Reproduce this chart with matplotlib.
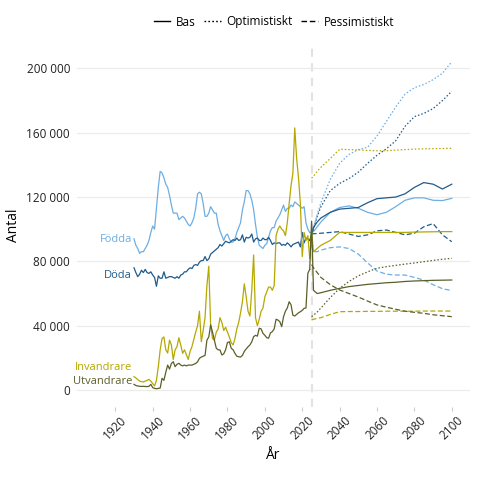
import matplotlib.pyplot as plt
from matplotlib.lines import Line2D
from matplotlib.ticker import FuncFormatter

plt.rcParams["font.family"] = ["Open Sans", "DejaVu Sans"]

# Historik 1930-2024
hist_years = list(range(1930, 2025))

fodda = [
    94000, 90000, 88000, 85000, 86000, 86000, 88000, 90000, 93000, 98000,
    102000, 100000, 113000, 126000, 136000, 135000, 132000, 128000, 126000, 121000,
    115000, 110000, 110000, 110000, 106000, 107000, 108000, 107000, 105000, 103000,
    102000, 104000, 107000, 113000, 122000, 123000, 122000, 116000, 108000, 108000,
    110000, 114000, 112000, 110000, 110000, 103000, 99000, 96000, 93000, 96000,
    97000, 94000, 92000, 92000, 94000, 98000, 101000, 104000, 112000, 117000,
    124000, 124000, 122000, 118000, 112000, 103000, 95000, 90000, 89000, 88000,
    90000, 91000, 95000, 99000, 101000, 101000, 105000, 107000, 109000, 112000,
    115000, 111000, 113000, 113000, 115000, 114000, 117000, 116000, 115000, 114000,
    113000, 114000, 104000, 100000, 98000,
]
doda = [
    76000, 73000, 70500, 72000, 74500, 73000, 75000, 73000, 72500, 73500,
    71500, 70000, 64500, 71000, 69500, 69500, 73500, 69500, 70000, 70500,
    70500, 70000, 69500, 70500, 69500, 71500, 72000, 73500, 73500, 75000,
    76000, 75500, 77500, 78000, 77500, 79500, 80500, 80500, 83000, 80500,
    81500, 84500, 85500, 86500, 87500, 88500, 90500, 89500, 91000, 92500,
    92000, 91500, 92500, 93500, 93000, 94500, 93000, 93500, 96500, 92000,
    95000, 94500, 95000, 97000, 92000, 94000, 94500, 93000, 93000, 94500,
    93500, 93500, 95000, 93000, 90500, 91500, 91000, 91500, 91500, 90000,
    90500, 90000, 91500, 90500, 89000, 90500, 91000, 91500, 92000, 89000,
    98000, 91500, 94500, 94000, 93000,
]
invandrare = [
    8300, 7500, 6500, 5500, 5200, 5000, 5500, 6000, 6600, 5500,
    4000, 2500, 6000, 14500, 25000, 32000, 33000, 25000, 23000, 31000,
    28000, 19000, 25000, 27000, 32500, 28000, 22800, 25000, 22000, 19000,
    24000, 27000, 31500, 36000, 40000, 49000, 30000, 37000, 45000, 65000,
    77000, 40000, 32000, 31000, 36000, 38000, 45000, 42000, 37000, 39000,
    36000, 33000, 29500, 28000, 32000, 38000, 42000, 48000, 55000, 66000,
    58000, 49000, 46000, 62000, 84000, 45000, 40000, 44000, 49000, 51000,
    58000, 61000, 64000, 64000, 62000, 65000, 96000, 100000, 102000, 100000,
    99000, 96000, 104000, 116000, 127000, 135000, 163000, 144000, 132000, 116000,
    83000, 98000, 93000, 96000, 82000,
]
utvandrare = [
    3500, 2800, 2500, 2300, 2200, 2300, 2200, 2100, 2300, 3500,
    1500, 1000, 800, 1000, 1200, 7300, 6000, 11000, 15500, 13000,
    16500, 17600, 14500, 16000, 16600, 15500, 15000, 15500, 15000, 15500,
    15500, 15500, 16000, 16500, 17500, 19700, 20500, 21000, 21500, 31000,
    33000, 40500, 36000, 31000, 26000, 25000, 24900, 21800, 22500, 25000,
    29500, 30000, 26000, 25000, 22800, 21000, 20700, 20500, 21500, 24000,
    25500, 26900, 28000, 30000, 33200, 34000, 33500, 38400, 38000, 35200,
    34000, 32500, 32200, 35500, 36300, 38000, 44000, 43500, 42500, 39400,
    45600, 49000, 51000, 54900, 53000, 46500, 46000, 47000, 48000, 48700,
    49500, 50800, 51000, 72600, 75000,
]

# Prognos 2025-2100
proj_years = [2025, 2026, 2028, 2030, 2035, 2040, 2045, 2050, 2055,
              2060, 2065, 2070, 2075, 2080, 2085, 2090, 2095, 2100]

fodda_bas = [98000, 98500, 101500, 104500, 110500, 113500, 114500, 113000, 110500,
             109000, 110500, 114000, 118000, 119500, 119500, 118000, 117800, 119200]
fodda_opt = [98000, 101000, 109000, 116500, 131000, 141000, 146500, 149500, 151000,
             158000, 167000, 176000, 184000, 188000, 190000, 193000, 197000, 204200]
fodda_pess = [90000, 86000, 86000, 87000, 88500, 89000, 88000, 84500, 79000,
              74000, 72000, 71500, 71500, 70000, 68400, 65500, 63000, 61800]

doda_bas = [97000, 101000, 104500, 107000, 110500, 112500, 113000, 113500, 116500,
            119000, 119500, 120000, 122000, 126000, 129000, 128000, 125000, 128000]
doda_opt = [97000, 100000, 108000, 114000, 124000, 128500, 131500, 135500, 141000,
            146000, 150000, 155000, 164000, 170000, 172000, 175000, 180000, 185800]
doda_pess = [97000, 97200, 97300, 97500, 98000, 98500, 97000, 95500, 96500,
             99000, 99500, 98000, 96500, 97500, 101500, 103500, 96500, 92200]

inv_bas = [99000, 86000, 88000, 90000, 93000, 98000, 98000, 98000, 98000,
           98000, 98000, 98000, 98000, 98200, 98300, 98400, 98500, 98500]
inv_opt = [131700, 133000, 136000, 138500, 144000, 149700, 149500, 149300, 149000,
           148800, 148800, 149200, 149500, 149800, 150000, 150100, 150200, 150300]
inv_pess = [43500, 44000, 44500, 45000, 47000, 48700, 48800, 48800, 48900,
            48900, 49000, 49000, 49000, 49000, 49100, 49100, 49100, 49100]

utv_bas = [105000, 62000, 60000, 60500, 62000, 63200, 64300, 65000, 65700,
           66200, 66700, 67000, 67500, 67800, 68000, 68200, 68300, 68400]
utv_opt = [45600, 46500, 48500, 51000, 57500, 63200, 67500, 71000, 73500,
           75700, 76700, 77500, 78300, 79000, 79800, 80600, 81300, 81900]
utv_pess = [78000, 76000, 73000, 70000, 65500, 62200, 60000, 57800, 55300,
            52900, 51500, 50200, 49000, 48300, 47700, 46800, 46200, 45600]

C_FODDA = "#6eaee2"
C_DODA = "#1f5b8c"
C_INV = "#b5a800"
C_UTV = "#5b5f2a"

DOT = (0, (1.2, 1.6))
DASH = (0, (4, 2))

fig = plt.figure(figsize=(4.8, 4.8), dpi=100)
ax = fig.add_axes([0.1604, 0.152, 0.8186, 0.7584])

ax.axvline(2025, color="#e2e2e2", lw=1.5, ls=(0, (4, 3)), zorder=1)

series = [
    (fodda, fodda_bas, fodda_opt, fodda_pess, C_FODDA),
    (doda, doda_bas, doda_opt, doda_pess, C_DODA),
    (invandrare, inv_bas, inv_opt, inv_pess, C_INV),
    (utvandrare, utv_bas, utv_opt, utv_pess, C_UTV),
]
for hist, bas, opt, pess, col in series:
    ax.plot(hist_years, hist, color=col, lw=0.9, zorder=3)
    ax.plot([hist_years[-1]] + proj_years, [hist[-1]] + bas, color=col, lw=0.9, zorder=3)
    ax.plot(proj_years, opt, color=col, lw=0.9, ls=DOT, zorder=3)
    ax.plot(proj_years, pess, color=col, lw=0.9, ls=DASH, zorder=3)

# direktetiketter
lab_kw = dict(ha="right", va="center", fontsize=8)
ax.text(1929, 93900, "Födda", color=C_FODDA, **lab_kw)
ax.text(1929, 71000, "Döda", color=C_DODA, **lab_kw)
ax.text(1929, 14000, "Invandrare", color=C_INV, **lab_kw)
ax.text(1929, 5000, "Utvandrare", color=C_UTV, **lab_kw)

ax.set_xlim(1899.5, 2109.7)
ax.set_ylim(-10600, 215800)
ax.set_xticks(range(1920, 2101, 20))
ax.set_yticks(range(0, 200001, 40000))
ax.yaxis.set_major_formatter(FuncFormatter(lambda v, p: f"{int(v):,}".replace(",", " ")))

ax.grid(axis="y", color="#ebebeb", lw=0.8, zorder=0)
for s in ax.spines.values():
    s.set_visible(False)
ax.tick_params(axis="y", length=0, pad=5, labelsize=8.5, labelcolor="#222222")
ax.tick_params(axis="x", length=3, width=0.8, color="#cccccc", pad=2,
               labelsize=8.5, labelcolor="#222222")
for lbl in ax.get_xticklabels():
    lbl.set_rotation(45)
    lbl.set_ha("center")

ax.set_xlabel("År", fontsize=10, labelpad=4)
ax.set_ylabel("Antal", fontsize=10, labelpad=4)

handles = [
    Line2D([], [], color="black", lw=1.0, ls="-"),
    Line2D([], [], color="black", lw=1.0, ls=DOT),
    Line2D([], [], color="black", lw=1.0, ls=DASH),
]
fig.legend(handles, ["Bas", "Optimistiskt", "Pessimistiskt"], loc="center",
           bbox_to_anchor=(274 / 480, 1 - 22 / 480), ncol=3, frameon=False,
           fontsize=8.5, handlelength=1.4, handletextpad=0.5, columnspacing=0.7)

fig.savefig("out.png", dpi=100)
